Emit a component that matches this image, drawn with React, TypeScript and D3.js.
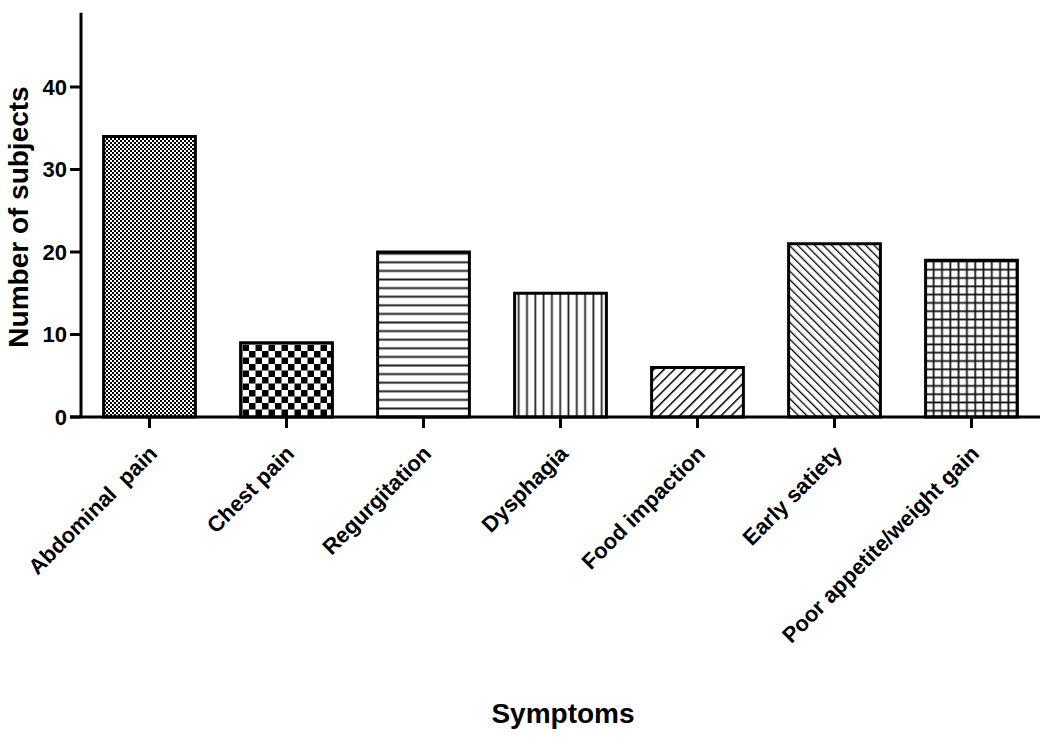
import React from "react";
import * as d3 from "d3";

const categories = [
  "Abdominal  pain",
  "Chest pain",
  "Regurgitation",
  "Dysphagia",
  "Food impaction",
  "Early satiety",
  "Poor appetite/weight gain",
];
const values = [34, 9, 20, 15, 6, 21, 19];
const patternIds = ["fineCheck", "coarseCheck", "hLines", "vLines", "fwdDiag", "backDiag", "grid"];
const yTicks = [0, 10, 20, 30, 40];

const W = 1050;
const H = 743;
const font = "'Liberation Sans', Arial, Helvetica, sans-serif";

export default function App() {
  const x = d3
    .scaleBand<string>()
    .domain(categories)
    .range([81, 1040])
    .paddingInner(0.33)
    .paddingOuter(0.165);
  const y = d3.scaleLinear().domain([0, 49]).range([417, 12.75]);
  const y0 = y(0);

  return (
    <svg
      width={W}
      height={H}
      style={{ position: "absolute", left: 0, top: 0, background: "#fff" }}
      fontFamily={font}
    >
      <defs>
        <pattern id="fineCheck" patternUnits="userSpaceOnUse" width={4} height={4}>
          <rect width={4} height={4} fill="#fff" />
          <rect x={0} y={0} width={2} height={2} fill="#000" />
          <rect x={2} y={2} width={2} height={2} fill="#000" />
        </pattern>
        <pattern id="coarseCheck" patternUnits="userSpaceOnUse" width={13} height={13} x={236} y={0}>
          <rect width={13} height={13} fill="#fff" />
          <rect x={0} y={0} width={6.5} height={6.5} fill="#000" />
          <rect x={6.5} y={6.5} width={6.5} height={6.5} fill="#000" />
        </pattern>
        <pattern id="hLines" patternUnits="userSpaceOnUse" width={8.6} height={8.6}>
          <rect width={8.6} height={8.6} fill="#fff" />
          <line x1={0} x2={8.6} y1={4.3} y2={4.3} stroke="#222" strokeWidth={2} />
        </pattern>
        <pattern id="vLines" patternUnits="userSpaceOnUse" width={8.3} height={8.3}>
          <rect width={8.3} height={8.3} fill="#fff" />
          <line y1={0} y2={8.3} x1={4.1} x2={4.1} stroke="#222" strokeWidth={1.8} />
        </pattern>
        <pattern
          id="fwdDiag"
          patternUnits="userSpaceOnUse"
          width={7.3}
          height={7.3}
          patternTransform="rotate(45)"
        >
          <rect width={7.3} height={7.3} fill="#fff" />
          <line x1={0} x2={0} y1={0} y2={7.3} stroke="#000" strokeWidth={3} />
        </pattern>
        <pattern
          id="backDiag"
          patternUnits="userSpaceOnUse"
          width={6}
          height={6}
          patternTransform="rotate(-45)"
        >
          <rect width={6} height={6} fill="#fff" />
          <line x1={0} x2={0} y1={0} y2={6} stroke="#000" strokeWidth={2.6} />
        </pattern>
        <pattern id="grid" patternUnits="userSpaceOnUse" width={8.3} height={8.3}>
          <rect width={8.3} height={8.3} fill="#fff" />
          <line x1={0} x2={8.3} y1={4.1} y2={4.1} stroke="#111" strokeWidth={1.8} />
          <line y1={0} y2={8.3} x1={4.1} x2={4.1} stroke="#111" strokeWidth={1.8} />
        </pattern>
      </defs>

      {/* bars */}
      {categories.map((c, i) => (
        <rect
          key={c}
          x={x(c)}
          y={y(values[i])}
          width={x.bandwidth()}
          height={y0 - y(values[i])}
          fill={`url(#${patternIds[i]})`}
          stroke="#000"
          strokeWidth={3}
        />
      ))}

      {/* y axis */}
      <line x1={81} x2={81} y1={y.range()[1]} y2={y0} stroke="#000" strokeWidth={3} />
      {yTicks.map((t) => (
        <g key={t}>
          <line x1={70} x2={81} y1={y(t)} y2={y(t)} stroke="#000" strokeWidth={3} />
          <text
            x={67}
            y={y(t)}
            dy="0.36em"
            textAnchor="end"
            fontSize={22}
            fontWeight="bold"
          >
            {t}
          </text>
        </g>
      ))}

      {/* x axis */}
      <line x1={70} x2={1040} y1={y0} y2={y0} stroke="#000" strokeWidth={3} />
      {categories.map((c) => {
        const cx = (x(c) as number) + x.bandwidth() / 2;
        return (
          <g key={c}>
            <line x1={cx} x2={cx} y1={y0} y2={y0 + 11} stroke="#000" strokeWidth={3} />
            <text
              transform={`translate(${cx + 9},${455}) rotate(-45)`}
              textAnchor="end"
              fontSize={22}
              fontWeight="bold"
              style={{ whiteSpace: "pre" }}
            >
              {c}
            </text>
          </g>
        );
      })}

      {/* titles */}
      <text
        transform={`translate(28,217) rotate(-90)`}
        textAnchor="middle"
        fontSize={28}
        fontWeight="bold"
      >
        Number of subjects
      </text>
      <text x={563} y={723} textAnchor="middle" fontSize={28} fontWeight="bold">
        Symptoms
      </text>
    </svg>
  );
}
